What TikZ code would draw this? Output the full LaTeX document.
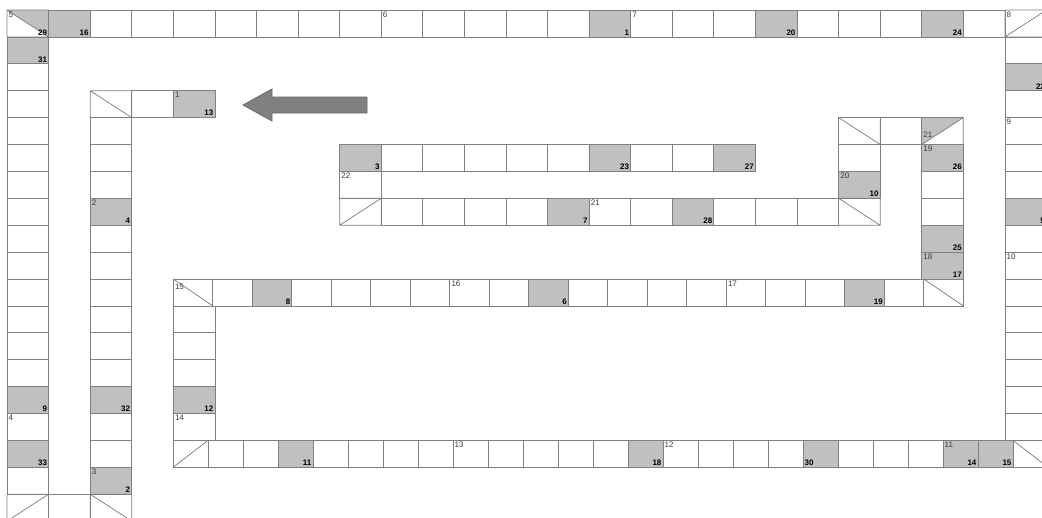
\documentclass[tikz,border=0pt]{standalone}
\usepackage{fontspec}
\setmainfont{Liberation Sans}
\definecolor{cline}{HTML}{808080}
\definecolor{cgray}{HTML}{C0C0C0}
\definecolor{ctext}{HTML}{3A3A3A}
\definecolor{carrow}{HTML}{808080}
\definecolor{carrowdark}{HTML}{686868}
\newcommand{\cellw}{41.58}
\newcommand{\cellh}{26.9}
\tikzset{
  every picture/.style={x=1pt, y=-1pt},
  cell/.style={draw=cline, line width=0.75pt},
  shaded/.style={cell, fill=cgray},
  lab/.style={font=\fontsize{8}{9}\selectfont, text=ctext, anchor=north west, inner sep=1.5pt},
  val/.style={font=\fontsize{8}{9}\selectfont\bfseries, text=black, anchor=south east, inner sep=1.4pt},
  declare function={gx(\i)=7+41.58*\i; gy(\i)=10+26.9*\i; mx(\i)=173.3+39.5*\i; bx(\i)=173+35*\i;},
}

\begin{document}
\begin{tikzpicture}
  \useasboundingbox (0,0) rectangle (1042,517);
  % squares on the big grid
  \foreach \c in {1,...,23} \draw[cell] ({gx(\c)},{gy(0)}) rectangle ++(\cellw,\cellh);
  \foreach \r in {1,...,17} \draw[cell] ({gx(0)},{gy(\r)}) rectangle ++(\cellw,\cellh);
  \foreach \r in {4,...,17} \draw[cell] ({gx(2)},{gy(\r)}) rectangle ++(\cellw,\cellh);
  \foreach \r in {1,...,15} \draw[cell] ({gx(24)},{gy(\r)}) rectangle ++(\cellw,\cellh);
  \foreach \c in {8,...,17} \draw[cell] ({gx(\c)},{gy(5)}) rectangle ++(\cellw,\cellh);
  \foreach \c in {9,...,19} \draw[cell] ({gx(\c)},{gy(7)}) rectangle ++(\cellw,\cellh);
  \foreach \r in {5,...,9} \draw[cell] ({gx(22)},{gy(\r)}) rectangle ++(\cellw,\cellh);
  \foreach \r in {11,...,15} \draw[cell] ({gx(4)},{gy(\r)}) rectangle ++(\cellw,\cellh);
  \foreach \c/\r in {1/18, 3/3, 8/6, 20/5, 21/4} \draw[cell] ({gx(\c)},{gy(\r)}) rectangle ++(\cellw,\cellh);
  \foreach \c/\r in {1/0, 14/0, 18/0, 22/0, 0/1, 0/14, 0/16, 2/7, 2/14, 2/17, 4/3, 24/2, 24/7,
                     8/5, 14/5, 17/5, 13/7, 16/7, 20/6, 22/5, 22/8, 22/9, 4/14}
    \draw[shaded] ({gx(\c)},{gy(\r)}) rectangle ++(\cellw,\cellh);
  % corner squares
  \fill[cgray] ({gx(0)},{gy(0)}) -- ({gx(1)},{gy(0)}) -- ({gx(1)},{gy(1)}) -- cycle;
  \fill[cgray] ({gx(22)},{gy(4)}) -- ({gx(23)},{gy(4)}) -- ({gx(22)},{gy(5)}) -- cycle;
  \foreach \c/\r in {0/0, 2/3, 2/18, 20/4, 20/7}
    \draw[cell] ({gx(\c)},{gy(\r)}) rectangle ++(\cellw,\cellh) ({gx(\c)},{gy(\r)}) -- ++(\cellw,\cellh);
  \foreach \c/\r in {24/0, 0/18, 8/7, 22/4}
    \draw[cell] ({gx(\c)},{gy(\r)}) rectangle ++(\cellw,\cellh) ({gx(\c)},{gy(\r+1)}) -- ++(\cellw,-\cellh);
  % middle row
  \foreach \k in {0,...,19} \draw[cell] ({mx(\k)},{gy(10)}) rectangle ++(39.5,\cellh);
  \foreach \k in {2,9,17} \draw[shaded] ({mx(\k)},{gy(10)}) rectangle ++(39.5,\cellh);
  \foreach \k in {0,19} \draw[cell] ({mx(\k)},{gy(10)}) -- ++(39.5,\cellh);
  % bottom row
  \foreach \k in {0,...,24} \draw[cell] ({bx(\k)},{gy(16)}) rectangle ++(35,\cellh);
  \foreach \k in {3,13,18,22,23} \draw[shaded] ({bx(\k)},{gy(16)}) rectangle ++(35,\cellh);
  \draw[cell] ({bx(0)},{gy(17)}) -- ++(35,-\cellh);
  \draw[cell] ({bx(24)},{gy(16)}) -- ++(35,\cellh);
  % arrow
  \draw[fill=carrow, draw=carrowdark, line width=0.8pt] (367,97) -- (272,97) -- (272,89) -- (243,105)
    -- (272,121) -- (272,113) -- (367,113) -- cycle;
  % small numbers
  \foreach \c/\r/\t in {9/0/6, 15/0/7, 24/0/8, 24/4/9, 24/9/10, 4/15/14, 22/9/18, 22/5/19, 20/6/20,
                        14/7/21, 8/6/22, 4/3/1, 2/7/2, 2/17/3, 0/15/4, 0/0/5}
    \node[lab] (l\t) at ({gx(\c)},{gy(\r)}) {\t};
  \foreach \k/\t in {7/16, 14/17} \node[lab] (l\t) at ({mx(\k)},{gy(10)}) {\t};
  \foreach \k/\t in {8/13, 14/12, 22/11} \node[lab] (l\t) at ({bx(\k)},{gy(16)}) {\t};
  \node[lab] (l15) at ({mx(0)},{gy(10)+3}) {15};
  \node[lab, anchor=west] (l21b) at ({gx(22)},{gy(4)+17}) {21};
  % bold numbers
  \foreach \c/\r/\t in {0/0/29, 1/0/16, 14/0/1, 18/0/20, 22/0/24, 0/1/31, 4/3/13, 2/7/4, 0/14/9,
                        2/14/32, 0/16/33, 2/17/2, 24/2/22, 24/7/5, 8/5/3, 14/5/23, 17/5/27, 13/7/7,
                        16/7/28, 20/6/10, 22/5/26, 22/8/25, 22/9/17, 4/14/12}
    \node[val] (v\t) at ({gx(\c+1)},{gy(\r+1)}) {\t};
  \foreach \k/\t in {2/8, 9/6, 17/19} \node[val] (v\t) at ({mx(\k+1)},{gy(11)}) {\t};
  \foreach \k/\t in {3/11, 13/18, 22/14, 23/15} \node[val] (v\t) at ({bx(\k+1)},{gy(17)}) {\t};
  \node[val, anchor=south west] (v30) at ({bx(18)},{gy(17)}) {30};
\end{tikzpicture}
\end{document}
